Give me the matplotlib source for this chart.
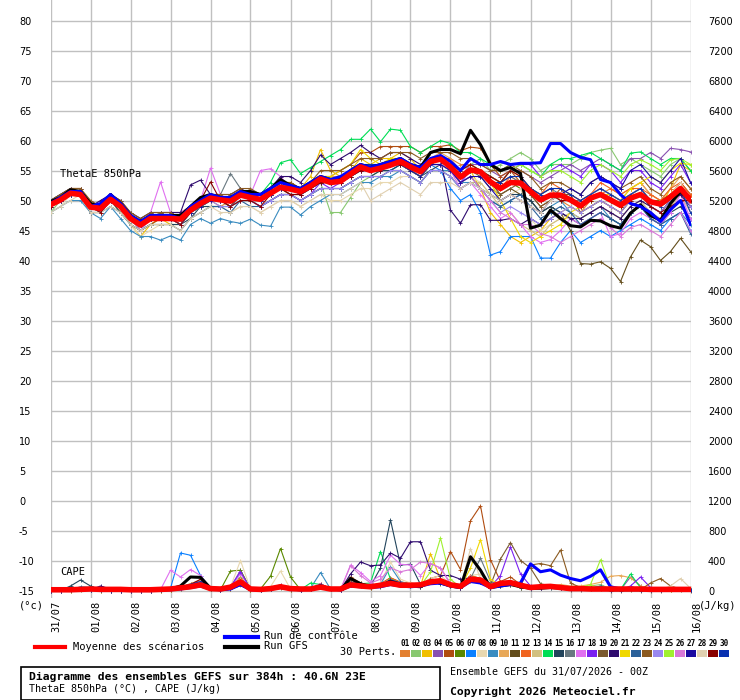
import numpy as np
import matplotlib
matplotlib.use('Agg')
import matplotlib.pyplot as plt
from matplotlib.lines import Line2D
from matplotlib.patches import Rectangle

plt.rcParams['axes.unicode_minus'] = False

# echeances toutes les 6h sur 384h
heures = np.arange(0, 385, 6)
jours = ['31/07', '01/08', '02/08', '03/08', '04/08', '05/08', '06/08', '07/08', '08/08',
         '09/08', '10/08', '11/08', '12/08', '13/08', '14/08', '15/08', '16/08']

# ThetaE 850hPa (°C) : moyenne, controle, GFS
theta_moy = [49.3, 50.1, 51.2, 51.0, 48.9, 48.7, 50.2, 49.0, 47.0, 45.9, 47.0, 47.0, 47.0, 46.9, 48.4, 49.5,
             50.4, 50.1, 49.9, 50.9, 50.5, 50.2, 51.2, 52.2, 51.9, 51.5, 52.4, 53.6, 53.0, 53.2, 54.4, 55.6,
             55.0, 55.4, 55.9, 56.5, 55.6, 54.8, 56.5, 56.9, 55.6, 53.9, 55.1, 54.8, 53.1, 52.0, 53.0, 52.9,
             51.5, 50.1, 50.9, 50.9, 50.1, 49.1, 50.4, 51.0, 50.1, 49.2, 50.4, 51.0, 49.8, 49.4, 50.6, 52.0, 50.1]
theta_ctrl = [49.5, 50.5, 51.5, 51.5, 49.0, 49.5, 51.0, 49.5, 47.5, 46.5, 47.5, 47.5, 47.5, 47.0, 49.0, 50.0,
              51.0, 50.5, 50.5, 51.5, 51.0, 51.0, 52.0, 53.0, 52.5, 52.0, 53.0, 54.0, 53.5, 54.0, 55.0, 56.0,
              55.5, 56.0, 56.5, 57.0, 56.0, 55.5, 57.0, 57.5, 56.5, 55.0, 57.0, 56.0, 56.0, 56.5, 56.0, 56.2,
              56.2, 56.3, 59.5, 59.5, 58.0, 57.2, 56.8, 53.5, 53.0, 51.0, 49.5, 49.0, 48.0, 46.5, 48.5, 50.0, 46.0]
theta_gfs = [49.8, 50.5, 51.8, 51.5, 49.5, 49.0, 51.0, 49.5, 47.5, 46.5, 47.5, 47.5, 47.5, 47.5, 49.0, 50.5,
             51.0, 50.5, 50.5, 51.5, 51.5, 51.0, 52.0, 53.5, 52.5, 52.0, 53.0, 54.0, 53.5, 53.5, 55.0, 56.0,
             55.5, 56.0, 56.5, 57.0, 56.0, 55.5, 58.0, 58.5, 58.5, 57.8, 61.7, 59.3, 56.0, 55.0, 55.5, 54.5,
             45.4, 45.9, 48.4, 47.0, 45.8, 45.6, 46.7, 46.6, 45.8, 45.4, 47.9, 49.3, 47.5, 46.7, 49.5, 51.5, 50.0]

# ThetaE des 30 perturbations (un groupe = un jour 00/06/12/18Z)
tp01 = "49 50 51 51|49 48 50 49|46 45 46 47|47 46 48 49|50 49 50 51|50 50 51 52|52 51 52 53|53 53 54 55|55 55 56 56|56 55 57 57|57 56 56 55|54 53 55 54|52 51 52 50|49 48 50 51|52 51 52 53|51 50 51 53|51"
tp02 = "48 50 51 51|49 49 50 49|47 46 47 47|47 47 48 50|50 50 49 51|51 50 51 52|52 51 52 53|48 48 50.5 53|54 55 55 56|55 55 56 57|56 55 56 57|55 56 57 58|57 55 56 56|56 57 58 58.4|58.7 56 57 56|55 54 56 57|55"
tp03 = "50 51 52 52|49 48 50 48|46 44 46 47|46 46 48 49|50 50 49 51|51 50 51 53|53 52 54 58.5|55 54 55 57|56 57 57 58|57 55 57 57|56 54 55 52|48 46 44 43|44 45 47 48|49 48 49 50|49 48 50 51|50 49 52 56|55"
tp04 = "49 50 51 51|49 49 50 49|47 46 47 47|47 47 48 49|51 50 50 51|50 50 51 52|52 51 53 54|53 54 55 56|55 56 56 57|56 55 57 57|56 54 56 56|55 54 55 55|54 53 54 55|56 55 56 57|56 55 57 57|58 57 58.7 58.5|58.1"
tp05 = "49 50 52 51|48 48 50 49|47 45 46 47|47 46 48 50|51 50 50 51|51 50 52 53|53 52 53 54|54 55 56 58|58 59 59 59|59 58 59 59|59.3 58.3 58.9 58.7|56 54 55 53|51 49 50 52|50 49 51 52|51 50 51 52|50 49 51 53|51"
tp06 = "49 50 51 51|49 49 50 49|47 46 47 47|47 47 49 50|50 50 50 51|51 50 51 52|52 52 52 53|53 53 54 55|55 55 56 56|55 54 56 57|56 55 56 55|53 52 53 52|52 50 51 51|50 49 50 51|50 49 51 52|50 50 51 52|50"
tp07 = "50 51 52 51|49 49 50 49|47 46 47 47|47 47 48 49|50 50 50 51|50 50 51 52|52 51 52 54|53 53 54 55|55 55 55 56|55 54 56 55|52 50 51 48|40.9 41.5 44 44|44 40.4 40.4 43|45 43 44 45|44 45 46 47|46 45 47 48|45"
tp08 = "48 49 51 52|50 49 50 49|46 44 45 46|46 45 47 48|49 49 48 49|49 48 49 50|50 49 50 51|50 50 51 52|52 53 53 54|54 53 55 55|54 53 54 53|51 50 51 52|47 45 46 47|47 47 48 49|48 47 49 50|49 48 50 51|49"
tp09 = "48 49 50 50|48 47 49 47|45 44 44 43.4|44.1 43.4 46 47|46.2 47 46.5 46.2|46.9 45.9 45.7 48.9|48.9 47.6 49 50|51 51 52 53|53 54 54 55|54 53 55 55|55 53 53 52|50 49 50 51|50 48 49 50|48 47 48 49|47 46 48 49|47 46 47 48|46"
tp10 = "50 51 52 52|49 49 50 49|47 46 47 48|48 47 49 50|51 50 50 51|51 51 52 53|52 52 53 54|54 54 55 56|56 56 57 57|56 55 57 58|57 55 56 55|54 53 54 54|52 51 52 52|51 50 51 52|51 50 52 53|51 50 52 54|52"
tp11 = "49 50 51 51|49 48 50 49|47 46 47 47|47 46 48 49|50 50 49 51|50 50 51 52|51 51 52 53|53 53 54 55|55 55 56 56|55 55 56 57|55 54 55 55|53 51 52 51|50 48 49 48|45 39.5 39.4 39.8|38.7 36.5 40.6 43.4|42.3 40 41.5 43.7|41.5"
tp12 = "49 50 51 51|49 49 50 49|47 46 47 47|47 47 48 50|50 50 50 51|50 50 51 52|52 52 52 54|53 53 54 56|55 56 56 57|56 55 57 57|56 54 55 55|53 52 54 53|52 51 53 52|51 50 51 53|52 51 52 52|51 50 52 53|51"
tp13 = "49 50 51 51|49 48 50 49|47 45 46 46|46 46 48 49|49 49 49 50|50 49 50 51|51 50 51 52|52 52 53 54|54 54 55 55|54 53 55 55|54 52 53 53|51 49 48 46|45 44 46 47|48 47 48 49|48 47 49 50|48 47 49 51|48"
tp14 = "49 50 51 51|49 49 50 49|47 46 47 47|47 47 48 49|50 50 50 51|51 51 53 56.3|56.8 54.5 55.5 56.5|57.5 58.5 60.2 60.2|61.9 59.8 61.9 61.7|59 58 59 60|59.5 58 58 57|56 55 56 56|55 54 56 57|57 57.5 58 57|56 55 57.9 58.1|57 56 57 57|55"
tp15 = "49 50 51 51|48 48 50 48|46 45 46 46|46 46 47 49|49 49 49 50|50 49 50 51|51 50 51 52|52 52 53 54|54 55 55 56|55 54 55 56|55 53 54 52|51 50 51 51|50 48 49 48|47 46 47 48|47 46 48 49|47 46 48 49|47"
tp16 = "50 51 52 51|49 49 50 49|47 46 47 48|48 48 49 50|51 51 54.5 52|51 51 52 53|52 52 53 54|53 54 55 56|55 56 56 57|56 55 56 57|56 54 55 55|54 53 54 53|52 51 52 51|50 50 51 52|51 50 51 52|50 49 50 52|50"
tp17 = "49 50 52 51|49 48 50 49|47 46 48 53.1|48 48 49 50|55.4 51 50 51|51 55 55.3 54|52 51 52 53|53 53 54 55|55 55 56 56|55 54 56 56|55 52 53 51|49 47 48 46|44 43 43.5 45|47 46 47 48|44 44.5 47 48|47 46 48 51|47"
tp18 = "49 50 51 51|49 49 50 49|47 46 47 47|47 46 48 49|50 50 49 51|50 49 50 51|51 50 51 53|52 53 54 55|55 55 56 56|55 54 56 56|55 53 55 55|54 53 55 56|56 54 55 56|55 54 56 56|55 53 55 55|53 52 54 56|53"
tp19 = "49 50 51 51|49 48 50 49|47 46 47 47|47 46 48 49|50 50 49 51|50 50 51 52|51 51 52 53|53 53 54 55|55 55 56 56|55 54 56 57|56 54 55 54|52 51 52 53|51 49 50 51|51 48 49 50|49 48 50 51|49 48 50 52|49"
tp20 = "50 51 52 52|49 50 51 50|48 47 48 48|48 48 52.6 53.4|51 51 51 52|51 51 52 54|54 53 55 57.6|56 57 58 59.2|58 57 58 58|57 56 57 57|48.4 46.2 49.3 49.3|46.7 46.7 47 46|47 46 47 48|47 47 48 49|48 47 49 50|49 48 50 51|49"
tp21 = "49 50 51 51|49 49 50 49|47 46 47 47|47 47 48 50|50 50 50 51|51 50 51 52|52 52 53 54|54 55 56 58.5|57 56 57 57|56 55 57 57|56 54 55 55|53 50 47 44|43 44 45 46|48 49 50 51|51 50 52 53|54 53 55 56.2|56"
tp22 = "49 50 51 51|48 48 49 48|46 45 46 46|46 45 47 48|49 49 48 50|49 49 50 51|51 50 51 52|52 52 53 54|54 54 55 55|54 53 55 55|54 52 53 52|50 49 50 51|49 47 48 49|48 46 47 48|47 46 48 49|47 46 47 48|44.5"
tp23 = "50 51 52 52|50 49 51 50|48 47 48 48|48 47 49 50|51 51 51 52|52 51 52 53|53 52 53 55|55 55 56 57|57 57 58 58|58 57 58 58|58 57 57 56|55 55 56 55|54 52 53 53|52 51 53 54|53 52 53 54|52 51 53 54|52"
tp24 = "49 50 51 51|49 48 50 49|47 45 47 47|47 46 48 49|50 49 49 50|50 49 50 51|51 50 51 52|52 52 53 54|54 54 55 55|54 53 55 55|54 52 53 52|50 48 49 48|47 46 47 48|49 48 49 50|49 48 50 51|49 48 50 52|49"
tp25 = "49 50 51 51|49 49 50 49|47 46 47 47|47 47 48 49|50 50 50 51|50 50 51 52|52 51 52 53|53 53 54 55|55 55 56 56|55 54 56 56|55 54 55 55|54 53 55 56|55 54 55 55|54 53 55 56|55 54 56 56.8|56 55 56.8 57|56"
tp26 = "49 50 51 51|49 49 50 49|47 46 47 47|47 47 48 50|50 50 50 51|50 50 51 52|52 51 52 54|53 53 54 55|55 55 56 56|56 55 56 56|55 53 54 52|50 48 47 46|46 44.5 44 43|44 45 46 47|45.5 44 45.5 46|45 44 46 48|45"
tp27 = "49 50 51 51|49 49 50 49|47 46 47 47|47 47 48 49|50 50 50 51|51 50 51 52|52 51 52 53|53 53 54 55|55 55 56 56|55 54 56 56|55 53 54 54|52 50 51 50|49 48 50 51|52 51 53 54|53 52 55 56|54 53 55 57|53"
tp28 = "48 49 50 51|48 48 49 48|46 45 46 46|46 45 47 48|49 48 48 49|49 48 49 50|50 49 50 51|51 51 52 53|50 51 52 53|52 51 53 53|53 52 53 52|51 50 51 50|49 48 50 51|50 49 51 52|51 50 51 52|50 49 51 53|50"
tp29 = "49 50 51 51|49 48 50 49|47 46 47 47|47 46 48 50|53.1 50 49 50|50 49 51 52|51 51 52 53|53 53 54 55|55 55 56 56|56 55 57 57|56 55 56 55|54 53 55 54|52 50 51 50|50 49 50 51|50 49 50 51|49 48 49 50|50"
tp30 = "50 50 51 51|49 49 50 49|47 46 47 47|47 47 48 50|51 50 50 51|51 50 51 52|52 52 53 54|53 54 55 56|56 56 56 57|56 55 57 57|56 54 55 55|53 53 54 54|52 51 52 52|51 50 51 52|51 50 51 52|50 49 51 52|48"

# CAPE (J/kg) : moyenne, controle, GFS
cape_moy = [10, 10, 10, 15, 20, 15, 15, 15, 10, 10, 10, 15, 20, 35, 50, 75, 25, 20, 45, 115, 20, 15, 25, 50,
            25, 20, 20, 45, 20, 20, 75, 60, 50, 70, 95, 70, 70, 75, 115, 130, 75, 55, 150, 140, 50, 95, 105, 70,
            40, 50, 55, 40, 25, 25, 20, 20, 20, 20, 20, 20, 15, 15, 15, 15, 15]
cape_ctrl = [10, 10, 10, 20, 20, 10, 10, 10, 0, 0, 0, 10, 10, 20, 40, 60, 20, 10, 20, 80, 10, 10, 20, 40,
             20, 10, 20, 40, 20, 10, 60, 50, 40, 50, 80, 60, 50, 60, 90, 100, 60, 40, 120, 100, 40, 60, 80, 100,
             355, 250, 275, 205, 160, 130, 190, 275, 50, 20, 20, 15, 10, 10, 10, 10, 10]
cape_gfs = [10, 10, 10, 20, 20, 10, 10, 10, 0, 0, 0, 10, 20, 60, 180, 175, 30, 10, 30, 80, 20, 10, 20, 50,
            20, 10, 20, 60, 20, 10, 160, 90, 50, 60, 120, 80, 60, 50, 120, 100, 60, 40, 450, 270, 40, 60, 80, 50,
            30, 30, 40, 30, 20, 20, 20, 20, 10, 10, 10, 10, 10, 10, 10, 10, 10]

cp01 = "0 0 10 30|20 10 10 10|0 0 0 10|10 30 60 100|20 10 20 80|10 10 20 50|20 10 20 60|20 10 80 60|40 60 120 80|60 50 120 100|60 30 150 120|30 60 80 40|30 40 60 40|20 30 40 50|20 20 30 20|10 10 20 20|10"
cp02 = "0 0 10 20|10 10 0 0|0 0 0 10|20 40 90 110|20 10 40 180|20 10 30 80|20 10 20 90|20 10 110 80|60 70 160 90|70 50 140 110|70 30 200 160|40 90 110 70|30 40 60 60|30 40 60 80|20 20 30 20|10 10 30 20|10"
cp03 = "0 0 0 20|10 0 0 0|0 0 0 0|10 30 70 120|20 10 30 160|10 10 20 50|10 10 20 70|20 10 90 70|50 80 130 70|80 60 490 150|100 40 200 150|50 70 90 40|30 30 50 40|20 20 30 30|10 10 20 20|10 10 10 20|10"
cp04 = "0 0 10 20|10 10 0 0|0 0 0 10|20 40 80 130|30 10 40 270|20 10 20 70|20 10 20 80|20 10 110 90|60 80 150 100|80 60 140 110|70 40 170 140|40 80 100 60|30 40 50 40|20 20 30 40|10 10 180 60|20 10 20 20|10"
cp05 = "0 0 10 30|10 10 0 0|0 0 0 10|20 40 90 130|30 10 30 170|20 10 20 60|20 10 20 90|20 10 180 100|60 90 170 110|100 80 160 200|520 280 930 1130|410 120 180 80|40 50 60 40|20 20 30 40|20 10 20 10|10 10 20 20|10"
cp06 = "0 0 10 20|10 10 0 0|0 0 0 10|20 40 80 120|30 10 260 270|20 20 190 560|180 10 20 80|20 10 100 80|60 70 140 100|70 60 130 110|70 40 170 140|40 70 100 60|30 40 50 40|20 20 30 40|10 10 20 10|10 10 20 20|10"
cp07 = "0 0 10 20|10 10 0 0|0 0 0 10|30 500 470 200|30 10 30 120|20 10 20 50|20 10 30 80|20 10 80 80|60 70 130 90|70 50 120 100|60 30 140 110|30 60 80 40|20 30 40 30|20 20 20 30|10 10 20 10|10 10 20 20|10"
cp08 = "0 0 10 20|10 10 0 0|0 0 0 10|20 40 80 120|30 10 50 400|20 10 50 260|20 10 20 70|20 10 100 90|70 100 380 150|100 70 160 200|90 50 200 220|50 60 90 50|30 40 50 40|20 20 30 40|10 10 20 10|10 10 20 20|10"
cp09 = "0 0 10 30|10 10 0 0|0 0 0 10|20 40 80 110|30 10 30 120|20 10 30 60|20 10 30 240|20 10 90 80|60 80 320 120|80 60 140 110|70 40 190 130|40 70 100 60|30 40 50 40|20 20 30 40|10 10 20 10|10 10 20 20|10"
cp10 = "0 0 10 20|10 10 0 0|0 0 0 10|20 40 80 120|30 10 30 140|20 10 20 60|20 10 20 80|20 10 90 90|60 70 140 90|70 60 130 110|70 40 160 140|40 70 90 60|30 40 60 80|60 60 80 110|190 200 170 60|20 10 20 20|10"
cp11 = "0 0 0 10|10 0 0 0|0 0 0 0|10 20 60 90|20 10 20 90|10 10 20 40|10 10 20 60|20 10 70 60|40 50 110 70|60 50 110 90|60 30 130 110|30 60 80 40|20 30 40 30|10 10 20 20|0 0 10 0|0 0 10 10|0"
cp12 = "0 0 10 20|10 10 0 0|0 0 0 10|20 40 90 130|30 10 30 150|20 10 20 70|20 10 30 90|20 10 120 90|60 80 170 110|80 60 150 120|70 40 200 160|40 90 120 70|40 50 60 40|20 20 30 40|10 10 20 10|10 10 20 20|10"
cp13 = "0 0 10 20|10 10 0 0|0 0 0 10|20 40 90 140|30 10 30 160|20 10 20 70|20 10 20 80|20 10 100 90|60 80 150 100|80 60 140 110|70 40 170 150|40 80 100 60|30 40 50 40|20 20 30 40|10 10 20 10|10 10 20 20|10"
cp14 = "0 0 10 20|10 10 0 0|0 0 0 10|20 40 80 120|30 10 30 130|20 10 20 60|20 10 100 80|20 10 100 90|100 520 150 100|80 60 140 110|70 40 170 140|40 80 100 60|30 40 50 40|20 20 30 40|10 10 220 40|10 10 20 20|10"
cp15 = "0 0 60 140|60 10 0 0|0 0 0 10|20 40 80 120|30 10 30 130|20 10 20 60|20 10 20 80|20 10 100 90|60 300 940 340|350 80 140 110|70 40 170 140|40 70 100 60|30 40 50 40|20 20 30 40|10 10 20 10|10 10 20 20|10"
cp16 = "0 0 10 20|10 10 0 0|0 0 0 10|20 40 80 110|30 10 30 130|20 10 20 60|20 10 20 80|20 10 90 90|60 70 140 100|70 60 130 110|70 40 160 430|120 70 100 60|30 40 50 40|20 20 30 40|10 10 20 10|10 10 20 20|10"
cp17 = "0 0 10 20|10 10 0 0|0 0 0 10|270 180 280 200|30 10 40 220|20 10 30 70|20 10 30 90|20 10 340 240|120 200 470 350|340 200 360 300|80 50 180 140|40 70 100 60|30 40 50 40|20 20 30 40|10 10 20 10|10 10 20 20|10"
cp18 = "0 0 10 20|10 10 0 0|0 0 0 10|20 40 80 120|30 10 50 250|20 10 20 60|20 10 20 80|20 10 100 90|60 70 140 100|70 60 130 110|70 40 170 140|50 200 580 220|60 40 50 40|20 20 30 40|10 10 60 180|40 10 20 20|10"
cp19 = "0 0 10 20|10 10 0 0|0 0 0 10|20 40 80 120|30 10 30 130|20 10 20 60|20 10 20 80|20 10 110 90|60 70 140 100|70 60 130 110|70 40 170 140|70 420 640 400|300 90 60 40|20 20 30 40|10 10 20 10|10 10 20 20|10"
cp20 = "0 0 10 20|10 60 20 0|0 0 0 10|20 40 80 120|30 10 30 130|20 10 20 60|20 10 20 80|20 10 220 380|330 340 500 430|650 650 270 200|200 150 170 140|40 70 100 60|30 40 50 40|20 20 30 40|10 10 20 10|10 10 20 20|10"
cp21 = "0 0 10 20|10 10 0 0|0 0 0 10|20 40 80 120|30 10 30 150|20 10 20 60|20 10 20 80|20 10 100 90|60 70 140 100|70 60 130 110|70 40 300 680|150 70 100 60|30 40 50 40|20 20 30 40|10 10 20 10|10 10 20 20|10"
cp22 = "0 0 10 50|40 10 0 0|0 0 0 10|20 40 70 110|20 10 30 100|20 10 20 60|20 10 20 70|20 10 90 80|50 70 130 90|70 60 120 100|60 40 160 130|40 60 90 50|30 40 50 40|20 20 30 60|10 10 20 10|10 10 20 20|10"
cp23 = "0 0 10 20|10 10 0 0|0 0 0 10|20 40 80 120|30 10 30 130|20 10 20 60|20 10 20 80|20 10 150 100|60 70 140 100|70 60 130 110|70 40 170 140|40 70 100 60|340 360 330 540|100 40 30 40|10 10 20 10|100 160 60 20|10"
cp24 = "0 0 10 20|10 10 0 0|0 0 0 10|20 40 80 120|30 10 30 140|20 10 20 60|20 10 20 80|20 10 100 90|60 70 140 100|70 60 130 110|70 40 170 140|40 70 100 60|30 40 50 40|20 20 30 40|10 10 20 10|10 10 20 20|10"
cp25 = "0 0 10 20|10 10 0 0|0 0 0 10|20 40 80 120|30 10 30 140|20 10 20 60|20 10 20 80|20 10 100 90|60 70 140 100|70 60 250 700|150 40 170 140|40 70 100 60|30 40 50 40|20 40 80 410|40 10 20 10|10 10 20 20|10"
cp26 = "0 0 10 20|10 10 0 0|0 0 0 10|20 40 80 120|30 10 30 140|20 10 20 60|20 10 20 80|20 10 330 200|100 150 300 250|280 380 360 300|100 50 170 140|40 70 100 60|30 40 50 40|20 20 30 40|10 10 20 10|10 10 20 20|10"
cp27 = "0 0 10 20|10 10 0 0|0 0 0 10|20 40 80 120|30 10 30 130|20 10 20 60|20 10 20 80|20 10 100 90|60 70 140 100|70 60 130 110|70 40 170 140|40 70 100 60|30 40 50 40|20 20 30 40|10 10 20 10|10 10 20 20|10"
cp28 = "0 0 10 20|10 10 0 0|0 0 0 10|20 40 80 120|30 10 30 140|20 10 20 60|20 10 20 80|20 10 100 90|60 70 140 100|70 60 130 110|70 40 560 140|40 70 100 60|30 40 50 40|20 20 30 40|10 10 20 10|10 10 60 160|30"
cp29 = "0 0 10 20|10 10 0 0|0 0 0 10|20 40 80 150|30 10 30 130|20 10 20 60|20 10 20 80|20 10 100 90|60 70 140 100|70 60 130 110|70 40 170 140|40 70 100 60|30 40 50 40|20 20 30 40|10 10 20 10|10 10 20 20|10"
cp30 = "0 0 10 20|10 10 0 0|0 0 0 10|20 40 80 120|30 10 30 130|20 10 20 60|20 10 20 80|20 10 100 90|60 70 140 100|70 60 130 110|70 40 170 140|40 70 100 60|30 40 50 40|20 20 30 40|10 10 20 10|10 10 20 20|10"

couleurs = ['#e38030', '#88c870', '#f0c000', '#8850b0', '#b04c10', '#5a8800', '#0a80ff', '#e8d8b0',
            '#3a8cc0', '#e8a858', '#634d1b', '#f06420', '#d2c080', '#00dd55', '#22445c', '#687880',
            '#e070f0', '#7a20f0', '#7b5a2f', '#2e0a6e', '#f0d800', '#2a6099', '#8b5a20', '#9a88f0',
            '#a0f030', '#d878d8', '#1a0aa0', '#e0d0b0', '#880000', '#0830b0']


def vals(s):
    v = [float(t) for t in s.replace('|', ' ').split()]
    assert len(v) == len(heures), (len(v), s[:20])
    return v


theta_perts = [vals(s) for s in [tp01, tp02, tp03, tp04, tp05, tp06, tp07, tp08, tp09, tp10,
                                  tp11, tp12, tp13, tp14, tp15, tp16, tp17, tp18, tp19, tp20,
                                  tp21, tp22, tp23, tp24, tp25, tp26, tp27, tp28, tp29, tp30]]
cape_perts = [vals(s) for s in [cp01, cp02, cp03, cp04, cp05, cp06, cp07, cp08, cp09, cp10,
                                 cp11, cp12, cp13, cp14, cp15, cp16, cp17, cp18, cp19, cp20,
                                 cp21, cp22, cp23, cp24, cp25, cp26, cp27, cp28, cp29, cp30]]

W, H = 740, 700
MONO = 'DejaVu Sans Mono'


def fx(x):
    return x / W


def fy(y):
    return 1 - y / H


fig = plt.figure(figsize=(7.4, 7.0), dpi=100)
ax = fig.add_axes([fx(50.5), fy(598), 640 / W, 598 / H])
y_bas, y_haut = -16.25, 83.42
ax.set_xlim(0, 384)
ax.set_ylim(y_bas, y_haut)
for sp in ax.spines.values():
    sp.set_visible(False)
ax.set_xticks(np.arange(0, 385, 24))
ax.set_xticklabels([])
ax.set_yticks(np.arange(-15, 81, 5))
ax.grid(True, color='#c0c0c0', lw=1.0)
ax.set_axisbelow(True)
ax.tick_params(length=0)
ax.tick_params(axis='y', labelsize=7, pad=22.7)
for lbl in ax.get_yticklabels():
    lbl.set_horizontalalignment('left')

# CAPE sur l'axe de droite
ax2 = ax.twinx()
ax2.set_ylim((y_bas + 15) * 80, (y_haut + 15) * 80)
ax2.set_yticks(np.arange(0, 7601, 400))
for sp in ax2.spines.values():
    sp.set_visible(False)
ax2.tick_params(length=0, labelsize=7, pad=12.6)

for i in range(30):
    ax.plot(heures, theta_perts[i], color=couleurs[i], lw=0.8, marker='+', ms=2.5, mew=0.6, zorder=2)
    ax2.plot(heures, cape_perts[i], color=couleurs[i], lw=0.8, marker='+', ms=2.5, mew=0.6, zorder=2)

ax.plot(heures, theta_gfs, color='black', lw=2.2, zorder=3)
ax.plot(heures, theta_ctrl, color='#0000ff', lw=2.2, zorder=4)
ax.plot(heures, theta_moy, color='#ff0000', lw=4, zorder=5)
ax2.plot(heures, cape_gfs, color='black', lw=2.2, zorder=3)
ax2.plot(heures, cape_ctrl, color='#0000ff', lw=2.2, zorder=4)
ax2.plot(heures, cape_moy, color='#ff0000', lw=4, zorder=5)

ax.text(5.7, 54.4, 'ThetaE 850hPa', fontsize=7.5, family=MONO, va='center', ha='left')
ax.text(5.7, -11.9, 'CAPE', fontsize=7.5, family=MONO, va='center', ha='left')

# dates en bas, texte vertical
for i, j in enumerate(jours):
    ax.text(i * 24 + 3.6, -0.004, j, transform=ax.get_xaxis_transform(), rotation=90,
            ha='center', va='top', fontsize=7.5, family=MONO)
fig.text(fx(19), fy(606), '(°c)', fontsize=7.5, family=MONO, va='center', ha='left')
fig.text(fx(699), fy(606), '(J/kg)', fontsize=7.5, family=MONO, va='center', ha='left')

# legende
fig.add_artist(Line2D([fx(35), fx(65)], [fy(647), fy(647)], color='#ff0000', lw=3))
fig.text(fx(73), fy(647), 'Moyenne des scénarios', fontsize=7.5, family=MONO, va='center')
fig.add_artist(Line2D([fx(225), fx(258)], [fy(637), fy(637)], color='#0000ff', lw=3))
fig.text(fx(264), fy(636), 'Run de contrôle', fontsize=7.5, family=MONO, va='center')
fig.add_artist(Line2D([fx(225), fx(258)], [fy(647), fy(647)], color='black', lw=3))
fig.text(fx(264), fy(646), 'Run GFS', fontsize=7.5, family=MONO, va='center')
fig.text(fx(340), fy(652), '30 Perts.', fontsize=7.5, family=MONO, va='center')
for i in range(30):
    x0 = 400 + i * 11
    fig.add_artist(Rectangle((fx(x0), fy(657)), 10 / W, 7 / H, transform=fig.transFigure,
                             color=couleurs[i], lw=0))
    fig.text(fx(x0 + 5), fy(643), '%02d' % (i + 1), fontsize=5.5, family=MONO,
             fontweight='bold', ha='center', va='center')

# cartouche du bas
fig.add_artist(Rectangle((fx(21), fy(700)), 419 / W, 33 / H, transform=fig.transFigure,
                         fill=False, ec='black', lw=1.2))
fig.text(fx(29), fy(677), 'Diagramme des ensembles GEFS sur 384h : 40.6N 23E', fontsize=8.2,
         family=MONO, fontweight='bold', va='center')
fig.text(fx(29), fy(689), 'ThetaE 850hPa (°C) , CAPE (J/kg)', fontsize=7.2, family=MONO, va='center')
fig.text(fx(450), fy(672), 'Ensemble GEFS du 31/07/2026 - 00Z', fontsize=7.2, family=MONO, va='center')
fig.text(fx(450), fy(692), 'Copyright 2026 Meteociel.fr', fontsize=8.2, family=MONO,
         fontweight='bold', va='center')

fig.savefig('out.png', dpi=100)
